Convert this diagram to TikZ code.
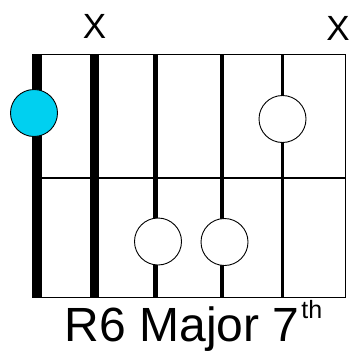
\documentclass[tikz,border=0pt]{standalone}
\usepackage{fontspec}
\setmainfont{Liberation Sans}
\definecolor{dotblue}{RGB}{0,208,240}
\begin{document}
\begin{tikzpicture}[x=1pt,y=-1pt,
  fret/.style={line width=1.5pt,black},
  str/.style={black},
  opendot/.style={circle,draw=black,line width=0.9pt,fill=white,minimum size=47pt,inner sep=0pt},
  rootdot/.style={circle,draw=black,line width=0.9pt,fill=dotblue,minimum size=47pt,inner sep=0pt},
  mute/.style={font=\fontsize{35}{35}\selectfont,anchor=base,inner sep=0pt},
  title/.style={font=\fontsize{48}{48}\selectfont,anchor=base west,inner sep=0pt}]
\useasboundingbox (0,0) rectangle (350,356);
% frame coordinates
\coordinate (tl) at (32,54.5);
\coordinate (tr) at (345.5,54.5);
\coordinate (ml) at (32,178);
\coordinate (mr) at (345.5,178);
\coordinate (bl) at (32,297.5);
\coordinate (br) at (345.5,297.5);
% frets
\draw[fret] (tl) -- (tr);
\draw[fret] (ml) -- (mr);
\draw[fret] (bl) -- (br);
\draw[fret] (tr) -- (br);
% strings
\coordinate (s1t) at (36.8,54.5); \coordinate (s1b) at (36.8,297.5);
\coordinate (s2t) at (94.5,54.5); \coordinate (s2b) at (94.5,297.5);
\coordinate (s3t) at (155.5,54.5); \coordinate (s3b) at (155.5,297.5);
\coordinate (s4t) at (222,54.5); \coordinate (s4b) at (222,297.5);
\coordinate (s5t) at (282.5,54.5); \coordinate (s5b) at (282.5,297.5);
\draw[str,line width=10pt] (s1t) -- (s1b);
\draw[str,line width=9.5pt] (s2t) -- (s2b);
\draw[str,line width=5pt] (s3t) -- (s3b);
\draw[str,line width=4.2pt] (s4t) -- (s4b);
\draw[str,line width=3.5pt] (s5t) -- (s5b);
% dots
\node[rootdot] (root) at (34,113) {};
\node[opendot] (d1) at (282.5,119) {};
\node[opendot] (d2) at (158,241.5) {};
\node[opendot] (d3) at (224.5,242) {};
% mutes
\node[mute] (x1) at (94.5,38) {X};
\node[mute] (x2) at (338,40) {X};
% title
\node[title] (t) at (64.5,341.7) {R6 Major 7};
\node[font=\fontsize{25}{25}\selectfont,anchor=base west,inner sep=0pt] (th) at ([xshift=1.5pt,yshift=23.7pt]t.base east) {th};
\end{tikzpicture}
\end{document}
